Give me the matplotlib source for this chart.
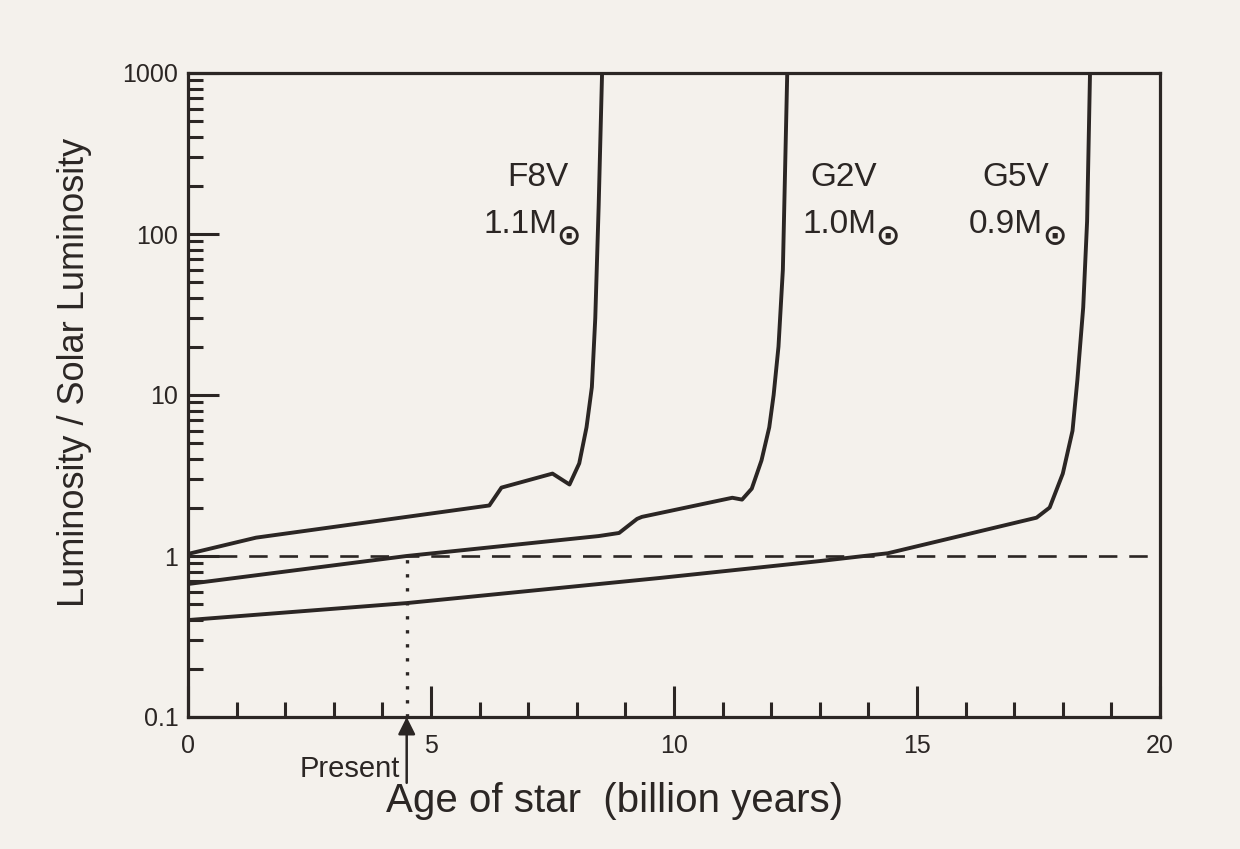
import matplotlib
matplotlib.use("Agg")
import matplotlib.pyplot as plt
from matplotlib.ticker import FixedLocator, NullFormatter, LogLocator

plt.rcParams['font.family'] = ['Liberation Sans', 'DejaVu Sans']

# ---- data ----
f8v_age = [0.0, 1.4, 4.5, 6.2, 6.45, 7.5, 7.85, 8.05, 8.2, 8.31, 8.38, 8.45, 8.52]
f8v_lum = [1.03, 1.30, 1.75, 2.06, 2.66, 3.25, 2.78, 3.76, 6.3, 11.2, 30, 150, 1000]

g2v_age = [0.0, 4.5, 8.45, 8.87, 9.24, 9.34, 11.2, 11.4, 11.6, 11.8, 11.96, 12.05, 12.15, 12.24, 12.33]
g2v_lum = [0.67, 1.0, 1.33, 1.39, 1.70, 1.75, 2.30, 2.24, 2.62, 3.92, 6.3, 10, 20, 60, 1000]

g5v_age = [0.0, 4.5, 9.7, 13.0, 14.4, 17.46, 17.73, 18.0, 18.2, 18.3, 18.42, 18.5, 18.56]
g5v_lum = [0.40, 0.51, 0.73, 0.93, 1.04, 1.73, 2.0, 3.25, 6.0, 12.4, 35, 120, 1000]

labels_type = ["F8V", "G2V", "G5V"]
labels_mass = ["1.1M", "1.0M", "0.9M"]
type_label_age = [7.2, 13.5, 17.03]
mass_label_end_age = [7.6, 14.17, 17.6]

present_age = 4.5
sun_lum = 1.0

xticks = [0, 5, 10, 15, 20]
yticks = [0.1, 1, 10, 100, 1000]
yticklabels = ["0.1", "1", "10", "100", "1000"]

bg = "#f4f1ec"
ink = "#2b2624"
W, H = 1240, 849

fig = plt.figure(figsize=(12.4, 8.49), dpi=100, facecolor=bg)
ax = fig.add_axes([188 / W, 1 - 717 / H, (1160 - 188) / W, (717 - 73) / H], facecolor=bg)
ax.set_yscale('log')
ax.set_xlim(0, 20)
ax.set_ylim(0.1, 1000)

for a, l in [(f8v_age, f8v_lum), (g2v_age, g2v_lum), (g5v_age, g5v_lum)]:
    ax.plot(a, l, color=ink, lw=2.8, solid_joinstyle='round', solid_capstyle='butt')

ax.axhline(sun_lum, color=ink, lw=1.9, dashes=(7, 4.5))
ax.plot([present_age, present_age], [0.1, sun_lum], color=ink, lw=2.4,
        linestyle=(0, (1, 3.2)))

for t, m, xa, xe in zip(labels_type, labels_mass, type_label_age, mass_label_end_age):
    ax.text(xa, 224, t, ha='center', va='center', fontsize=24, color=ink)
    ax.text(xe, 114, m, ha='right', va='center', fontsize=24, color=ink)
    ax.text(xe - 0.03, 96, "\u2299", ha='left', va='center', fontsize=21,
            color=ink, family='DejaVu Sans', fontweight='bold')

# Present arrow
ax.annotate("", xy=(present_age, 0.1), xycoords='data',
            xytext=(present_age, 0.039), textcoords='data',
            arrowprops=dict(arrowstyle='-|>', color=ink, lw=1.8,
                            mutation_scale=26, shrinkA=0, shrinkB=0),
            annotation_clip=False)
fig.text(400 / W, 1 - 769 / H, "Present", ha='right', va='center',
         fontsize=21, color=ink)

# ticks
ax.set_xticks(xticks)
ax.set_xticklabels([str(v) for v in xticks])
ax.xaxis.set_minor_locator(FixedLocator([v for v in range(1, 20) if v % 5 != 0]))
ax.set_yticks(yticks)
ax.set_yticklabels(yticklabels)
ax.yaxis.set_minor_locator(LogLocator(base=10, subs=range(2, 10), numticks=20))
ax.yaxis.set_minor_formatter(NullFormatter())

ax.tick_params(axis='both', which='major', direction='in', length=22, width=2.2,
               labelsize=18, colors=ink)
ax.tick_params(axis='both', which='minor', direction='in', length=11, width=2.2, colors=ink)
ax.tick_params(axis='x', which='major', pad=12)
ax.tick_params(axis='y', which='major', pad=7)

for s in ax.spines.values():
    s.set_linewidth(2.3)
    s.set_color(ink)

fig.text(615 / W, 1 - 801 / H, "Age of star  (billion years)", ha='center', va='center',
         fontsize=29, color=ink)
fig.text(75 / W, 1 - 372 / H, "Luminosity / Solar Luminosity", ha='center', va='center',
         rotation=90, fontsize=26, color=ink)

fig.savefig("out.png", dpi=100, facecolor=bg)
